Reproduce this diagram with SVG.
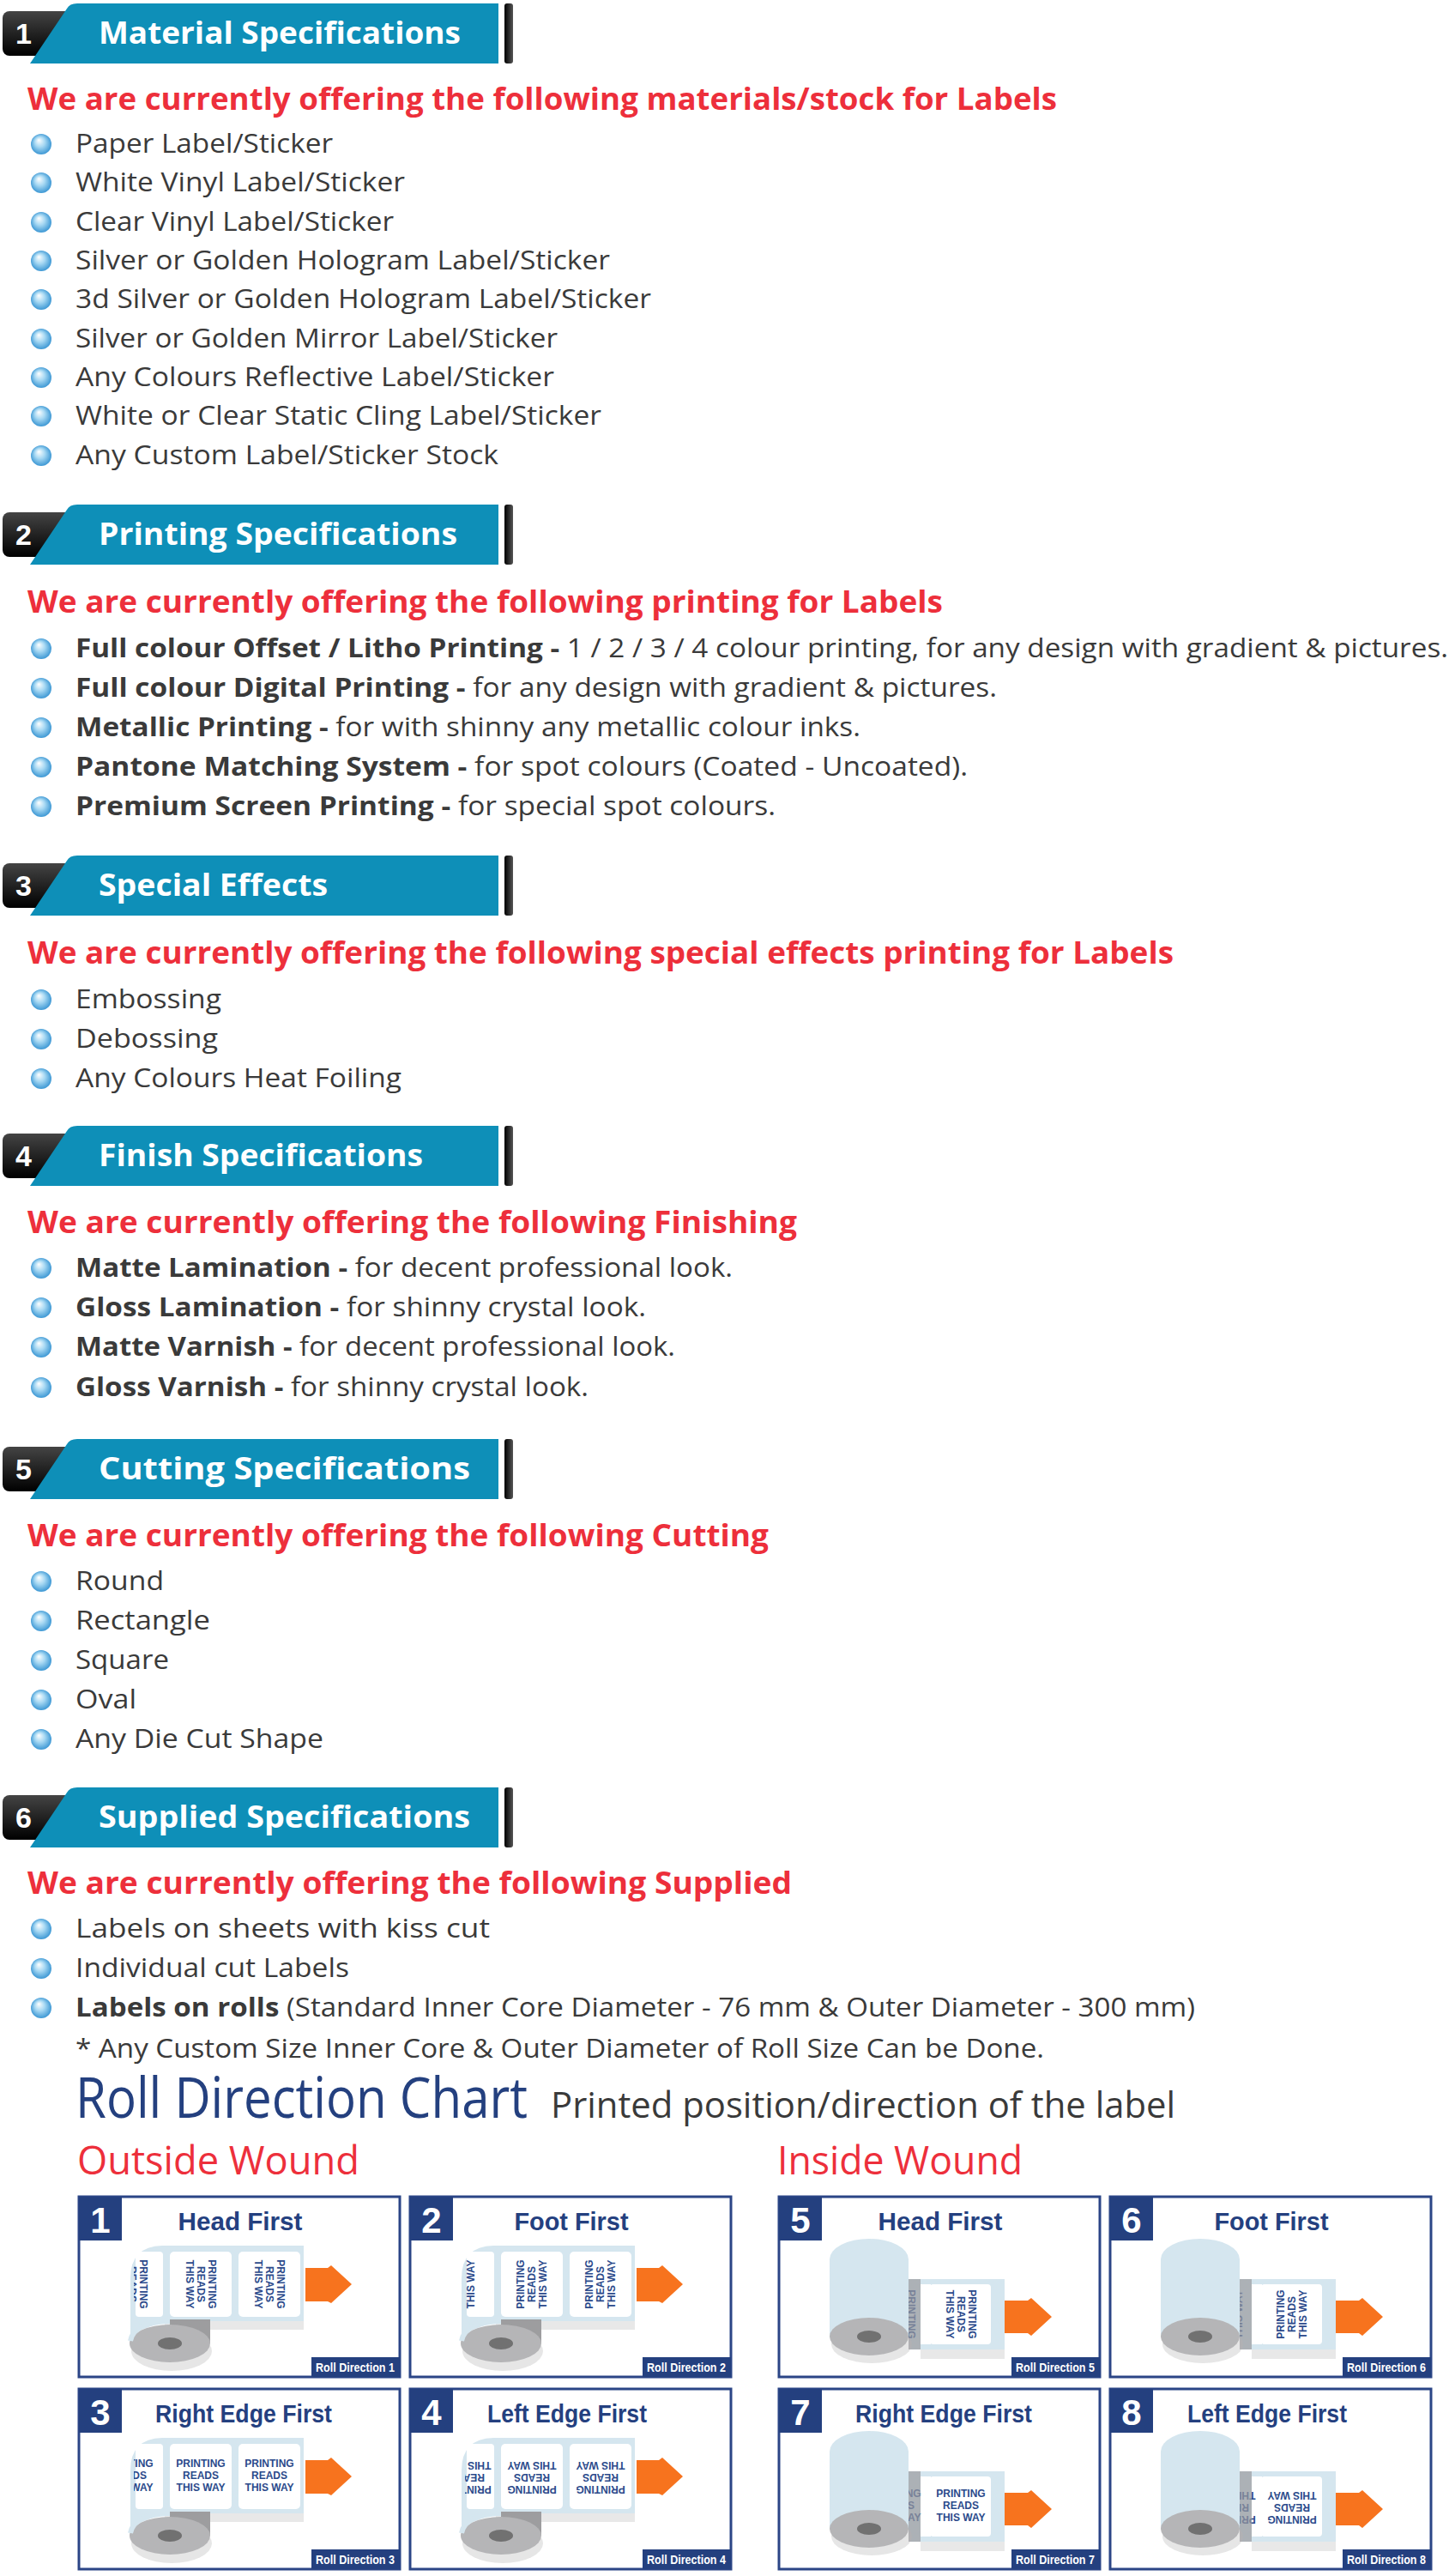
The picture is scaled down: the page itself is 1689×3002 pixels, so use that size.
<svg xmlns="http://www.w3.org/2000/svg" xmlns:xlink="http://www.w3.org/1999/xlink" width="1689" height="3002" viewBox="0 0 1689 3002">
<style>
.ht{font-family:"Open Sans","Liberation Sans",sans-serif;font-weight:bold;font-size:36px;fill:#fff}
.hn{font-family:"Liberation Sans",sans-serif;font-weight:bold;font-size:34px;fill:#fff}
.rd{font-family:"Open Sans","Liberation Sans",sans-serif;font-weight:bold;font-size:36px;fill:#ed2f3b}
.it{font-family:"Open Sans","Liberation Sans",sans-serif;font-size:31px;fill:#3a3a3a}
.b{font-weight:bold}
.bt{font-family:"Liberation Sans",sans-serif;font-weight:bold;font-size:30px;fill:#24407f}
.bn{font-family:"Liberation Sans",sans-serif;font-weight:bold;font-size:42px;fill:#fff}
.lb{font-family:"Liberation Sans",sans-serif;font-weight:bold;font-size:12px;fill:#2b4a8b;text-anchor:middle}
.tg{font-family:"Liberation Sans",sans-serif;font-weight:bold;font-size:15px;fill:#fff;text-anchor:middle}
.bx{fill:#fff;stroke:#2b4586;stroke-width:3}
</style>
<defs>
<radialGradient id="bg" cx="0.5" cy="0.5" r="0.55" fx="0.38" fy="0.3"><stop offset="0" stop-color="#fff"/><stop offset="0.45" stop-color="#a6d8f3"/><stop offset="1" stop-color="#2f8fd0"/></radialGradient>
<linearGradient id="dk" x1="0" y1="0" x2="1" y2="0"><stop offset="0" stop-color="#000"/><stop offset="1" stop-color="#555"/></linearGradient>
<linearGradient id="tab" x1="0" y1="0" x2="0" y2="1"><stop offset="0" stop-color="#444"/><stop offset="1" stop-color="#000"/></linearGradient>
<circle id="bul" r="12" fill="url(#bg)"/>
<g id="hdr">
<rect x="588" y="0" width="10" height="70" rx="3" fill="url(#dk)"/>
<rect x="3" y="9" width="90" height="52" rx="8" fill="url(#tab)"/>
<path d="M35,70 L78,6 Q81,0 90,0 L581,0 L581,70 Z" fill="#0e8fb8"/>
</g>
<g id="oroll">
<rect x="100" y="143" width="162" height="12" fill="#e8e8e8"/>
<path d="M60,160 L60,95 Q60,58 97,57 L262,57 L262,145 L100,145 Z" fill="#d5e6ef"/>
<rect x="66" y="64" width="32" height="76" rx="4" fill="#fff"/>
<rect x="106" y="64" width="72" height="76" rx="5" fill="#fff"/>
<rect x="186" y="64" width="72" height="76" rx="5" fill="#fff"/>
<ellipse cx="108" cy="180" rx="47" ry="23" fill="#e6e6e6"/>
<rect x="106" y="143" width="47" height="28" fill="#9d9d9f"/>
<ellipse cx="106" cy="171" rx="47" ry="22" fill="#b5b5b7"/>
<path d="M60,168 Q64,146 106,145" fill="none" stroke="#d5e6ef" stroke-width="6"/>
<ellipse cx="106" cy="171" rx="14" ry="7" fill="#717171"/>
<path d="M264,83 L290,83 L294,80 L318,102 L294,124 L290,122 L264,122 Z" fill="#f7731e"/>
</g>
<g id="iroll">
<rect x="165" y="176" width="98" height="13" fill="#e8e8e8"/>
<rect x="151" y="96" width="112" height="82" fill="#d5e6ef"/>
<rect x="165" y="102" width="12" height="70" fill="#fff"/>
<rect x="176" y="102" width="71" height="70" rx="4" fill="#fff"/>
<path d="M59,163 L59,73 A46,24 0 0 1 151,73 L151,163 Z" fill="#d5e6ef"/>
<ellipse cx="108" cy="172" rx="47" ry="22" fill="#e6e6e6"/>
<ellipse cx="105" cy="163" rx="46" ry="22" fill="#b5b5b7"/>
<ellipse cx="105" cy="163" rx="14" ry="7" fill="#717171"/>
<path d="M263,121 L290,121 L294,118 L318,140 L294,162 L290,159 L263,159 Z" fill="#f7731e"/>
</g>
<rect id="strip" x="151" y="96" width="14" height="82" fill="#9a9a9e" opacity="0.7"/>
<clipPath id="cpo"><rect x="64" y="60" width="34" height="84"/></clipPath>
<clipPath id="cpi"><rect x="151" y="98" width="26" height="76"/></clipPath>
</defs>

<!-- Section 1 -->
<g id="sec1">
<use href="#hdr" y="4"/>
<text class="hn" x="18" y="51">1</text>
<text class="ht" x="115" y="51" textLength="422" lengthAdjust="spacingAndGlyphs">Material Specifications</text>
<text class="rd" x="32" y="128" textLength="1200" lengthAdjust="spacingAndGlyphs">We are currently offering the following materials/stock for Labels</text>
<use href="#bul" x="48" y="168"/><text class="it" x="88" y="178" textLength="300" lengthAdjust="spacingAndGlyphs">Paper Label/Sticker</text>
<use href="#bul" x="48" y="213"/><text class="it" x="88" y="223" textLength="384" lengthAdjust="spacingAndGlyphs">White Vinyl Label/Sticker</text>
<use href="#bul" x="48" y="259"/><text class="it" x="88" y="269" textLength="371" lengthAdjust="spacingAndGlyphs">Clear Vinyl Label/Sticker</text>
<use href="#bul" x="48" y="304"/><text class="it" x="88" y="314" textLength="623" lengthAdjust="spacingAndGlyphs">Silver or Golden Hologram Label/Sticker</text>
<use href="#bul" x="48" y="349"/><text class="it" x="88" y="359" textLength="671" lengthAdjust="spacingAndGlyphs">3d Silver or Golden Hologram Label/Sticker</text>
<use href="#bul" x="48" y="395"/><text class="it" x="88" y="405" textLength="562" lengthAdjust="spacingAndGlyphs">Silver or Golden Mirror Label/Sticker</text>
<use href="#bul" x="48" y="440"/><text class="it" x="88" y="450" textLength="558" lengthAdjust="spacingAndGlyphs">Any Colours Reflective Label/Sticker</text>
<use href="#bul" x="48" y="485"/><text class="it" x="88" y="495" textLength="613" lengthAdjust="spacingAndGlyphs">White or Clear Static Cling Label/Sticker</text>
<use href="#bul" x="48" y="531"/><text class="it" x="88" y="541" textLength="493" lengthAdjust="spacingAndGlyphs">Any Custom Label/Sticker Stock</text>
</g>

<!-- Section 2 -->
<g id="sec2">
<use href="#hdr" y="588"/>
<text class="hn" x="18" y="635">2</text>
<text class="ht" x="115" y="635" textLength="418" lengthAdjust="spacingAndGlyphs">Printing Specifications</text>
<text class="rd" x="32" y="714" textLength="1067" lengthAdjust="spacingAndGlyphs">We are currently offering the following printing for Labels</text>
<use href="#bul" x="48" y="756"/><text class="it" x="88" y="766" textLength="1600" lengthAdjust="spacingAndGlyphs"><tspan class="b">Full colour Offset / Litho Printing - </tspan>1 / 2 / 3 / 4 colour printing, for any design with gradient &amp; pictures.</text>
<use href="#bul" x="48" y="802"/><text class="it" x="88" y="812" textLength="1074" lengthAdjust="spacingAndGlyphs"><tspan class="b">Full colour Digital Printing - </tspan>for any design with gradient &amp; pictures.</text>
<use href="#bul" x="48" y="848"/><text class="it" x="88" y="858" textLength="915" lengthAdjust="spacingAndGlyphs"><tspan class="b">Metallic Printing - </tspan>for with shinny any metallic colour inks.</text>
<use href="#bul" x="48" y="894"/><text class="it" x="88" y="904" textLength="1040" lengthAdjust="spacingAndGlyphs"><tspan class="b">Pantone Matching System - </tspan> for spot colours (Coated - Uncoated).</text>
<use href="#bul" x="48" y="940"/><text class="it" x="88" y="950" textLength="816" lengthAdjust="spacingAndGlyphs"><tspan class="b">Premium Screen Printing - </tspan> for special spot colours.</text>
</g>

<!-- Section 3 -->
<g id="sec3">
<use href="#hdr" y="997"/>
<text class="hn" x="18" y="1044">3</text>
<text class="ht" x="115" y="1044" textLength="267" lengthAdjust="spacingAndGlyphs">Special Effects</text>
<text class="rd" x="32" y="1123" textLength="1336" lengthAdjust="spacingAndGlyphs">We are currently offering the following special effects printing for Labels</text>
<use href="#bul" x="48" y="1165"/><text class="it" x="88" y="1175" textLength="170" lengthAdjust="spacingAndGlyphs">Embossing</text>
<use href="#bul" x="48" y="1211"/><text class="it" x="88" y="1221" textLength="166" lengthAdjust="spacingAndGlyphs">Debossing</text>
<use href="#bul" x="48" y="1257"/><text class="it" x="88" y="1267" textLength="380" lengthAdjust="spacingAndGlyphs">Any Colours Heat Foiling</text>
</g>

<!-- Section 4 -->
<g id="sec4">
<use href="#hdr" y="1312"/>
<text class="hn" x="18" y="1359">4</text>
<text class="ht" x="115" y="1359" textLength="378" lengthAdjust="spacingAndGlyphs">Finish Specifications</text>
<text class="rd" x="32" y="1437" textLength="897" lengthAdjust="spacingAndGlyphs">We are currently offering the following Finishing</text>
<use href="#bul" x="48" y="1478"/><text class="it" x="88" y="1488" textLength="766" lengthAdjust="spacingAndGlyphs"><tspan class="b">Matte Lamination - </tspan>for decent professional look.</text>
<use href="#bul" x="48" y="1524"/><text class="it" x="88" y="1534" textLength="665" lengthAdjust="spacingAndGlyphs"><tspan class="b">Gloss Lamination - </tspan>for shinny crystal look.</text>
<use href="#bul" x="48" y="1570"/><text class="it" x="88" y="1580" textLength="699" lengthAdjust="spacingAndGlyphs"><tspan class="b">Matte Varnish - </tspan>for decent professional look.</text>
<use href="#bul" x="48" y="1617"/><text class="it" x="88" y="1627" textLength="598" lengthAdjust="spacingAndGlyphs"><tspan class="b">Gloss Varnish - </tspan>for shinny crystal look.</text>
</g>

<!-- Section 5 -->
<g id="sec5">
<use href="#hdr" y="1677"/>
<text class="hn" x="18" y="1724">5</text>
<text class="ht" x="115" y="1724" textLength="433" lengthAdjust="spacingAndGlyphs">Cutting Specifications</text>
<text class="rd" x="32" y="1802" textLength="864" lengthAdjust="spacingAndGlyphs">We are currently offering the following Cutting</text>
<use href="#bul" x="48" y="1843"/><text class="it" x="88" y="1853" textLength="103" lengthAdjust="spacingAndGlyphs">Round</text>
<use href="#bul" x="48" y="1889"/><text class="it" x="88" y="1899" textLength="157" lengthAdjust="spacingAndGlyphs">Rectangle</text>
<use href="#bul" x="48" y="1935"/><text class="it" x="88" y="1945" textLength="109" lengthAdjust="spacingAndGlyphs">Square</text>
<use href="#bul" x="48" y="1981"/><text class="it" x="88" y="1991" textLength="71" lengthAdjust="spacingAndGlyphs">Oval</text>
<use href="#bul" x="48" y="2027"/><text class="it" x="88" y="2037" textLength="289" lengthAdjust="spacingAndGlyphs">Any Die Cut Shape</text>
</g>

<!-- Section 6 -->
<g id="sec6">
<use href="#hdr" y="2083"/>
<text class="hn" x="18" y="2130">6</text>
<text class="ht" x="115" y="2130" textLength="433" lengthAdjust="spacingAndGlyphs">Supplied Specifications</text>
<text class="rd" x="32" y="2207" textLength="891" lengthAdjust="spacingAndGlyphs">We are currently offering the following Supplied</text>
<use href="#bul" x="48" y="2248"/><text class="it" x="88" y="2258" textLength="483" lengthAdjust="spacingAndGlyphs">Labels on sheets with kiss cut</text>
<use href="#bul" x="48" y="2294"/><text class="it" x="88" y="2304" textLength="319" lengthAdjust="spacingAndGlyphs">Individual cut Labels</text>
<use href="#bul" x="48" y="2340"/><text class="it" x="88" y="2350" textLength="1305" lengthAdjust="spacingAndGlyphs"><tspan class="b">Labels on rolls</tspan> (Standard Inner Core Diameter - 76 mm &amp; Outer Diameter - 300 mm)</text>
<text class="it" x="88" y="2398" textLength="1129" lengthAdjust="spacingAndGlyphs">* Any Custom Size Inner Core &amp; Outer Diameter of Roll Size Can be Done.</text>
</g>

<!-- Chart -->
<g id="chart-title">
<text x="88" y="2468" font-family="Open Sans, Liberation Sans, sans-serif" font-size="66" fill="#24407f" textLength="527" lengthAdjust="spacingAndGlyphs">Roll Direction Chart</text>
<text x="642" y="2468" font-family="Open Sans, Liberation Sans, sans-serif" font-size="42" fill="#3a3a3a" textLength="728" lengthAdjust="spacingAndGlyphs">Printed position/direction of the label</text>
<text x="90" y="2534" font-family="Open Sans, Liberation Sans, sans-serif" font-size="46" fill="#ed2f3b" textLength="329" lengthAdjust="spacingAndGlyphs">Outside Wound</text>
<text x="906" y="2534" font-family="Open Sans, Liberation Sans, sans-serif" font-size="46" fill="#ed2f3b" textLength="286" lengthAdjust="spacingAndGlyphs">Inside Wound</text>
</g>

<g id="box1" transform="translate(92,2560)">
<rect class="bx" width="374" height="210"/><rect width="50" height="51" fill="#24407f"/><text class="bn" x="25" y="42" text-anchor="middle">1</text>
<text class="bt" x="188" y="39" text-anchor="middle" textLength="145" lengthAdjust="spacingAndGlyphs">Head First</text>
<use href="#oroll"/>
<g clip-path="url(#cpo)"><g transform="translate(62,102) rotate(90)"><text class="lb" y="-9">PRINTING</text><text class="lb" y="4">READS</text><text class="lb" y="17">THIS WAY</text></g></g>
<g transform="translate(142,102) rotate(90)"><text class="lb" y="-9">PRINTING</text><text class="lb" y="4">READS</text><text class="lb" y="17">THIS WAY</text></g>
<g transform="translate(222,102) rotate(90)"><text class="lb" y="-9">PRINTING</text><text class="lb" y="4">READS</text><text class="lb" y="17">THIS WAY</text></g>
<rect x="271" y="187" width="103" height="23" fill="#24407f"/><text class="tg" x="322" y="204" textLength="92" lengthAdjust="spacingAndGlyphs">Roll Direction 1</text>
</g>

<g id="box2" transform="translate(478,2560)">
<rect class="bx" width="374" height="210"/><rect width="50" height="51" fill="#24407f"/><text class="bn" x="25" y="42" text-anchor="middle">2</text>
<text class="bt" x="188" y="39" text-anchor="middle" textLength="133" lengthAdjust="spacingAndGlyphs">Foot First</text>
<use href="#oroll"/>
<g clip-path="url(#cpo)"><g transform="translate(58,102) rotate(-90)"><text class="lb" y="-9">PRINTING</text><text class="lb" y="4">READS</text><text class="lb" y="17">THIS WAY</text></g></g>
<g transform="translate(142,102) rotate(-90)"><text class="lb" y="-9">PRINTING</text><text class="lb" y="4">READS</text><text class="lb" y="17">THIS WAY</text></g>
<g transform="translate(222,102) rotate(-90)"><text class="lb" y="-9">PRINTING</text><text class="lb" y="4">READS</text><text class="lb" y="17">THIS WAY</text></g>
<rect x="271" y="187" width="103" height="23" fill="#24407f"/><text class="tg" x="322" y="204" textLength="92" lengthAdjust="spacingAndGlyphs">Roll Direction 2</text>
</g>

<g id="box3" transform="translate(92,2784)">
<rect class="bx" width="374" height="210"/><rect width="50" height="51" fill="#24407f"/><text class="bn" x="25" y="42" text-anchor="middle">3</text>
<text class="bt" x="192" y="39" text-anchor="middle" textLength="206" lengthAdjust="spacingAndGlyphs">Right Edge First</text>
<use href="#oroll"/>
<g clip-path="url(#cpo)"><g transform="translate(58,102)"><text class="lb" y="-11">PRINTING</text><text class="lb" y="3">READS</text><text class="lb" y="17">THIS WAY</text></g></g>
<g transform="translate(142,102)"><text class="lb" y="-11">PRINTING</text><text class="lb" y="3">READS</text><text class="lb" y="17">THIS WAY</text></g>
<g transform="translate(222,102)"><text class="lb" y="-11">PRINTING</text><text class="lb" y="3">READS</text><text class="lb" y="17">THIS WAY</text></g>
<rect x="271" y="187" width="103" height="23" fill="#24407f"/><text class="tg" x="322" y="204" textLength="92" lengthAdjust="spacingAndGlyphs">Roll Direction 3</text>
</g>

<g id="box4" transform="translate(478,2784)">
<rect class="bx" width="374" height="210"/><rect width="50" height="51" fill="#24407f"/><text class="bn" x="25" y="42" text-anchor="middle">4</text>
<text class="bt" x="183" y="39" text-anchor="middle" textLength="186" lengthAdjust="spacingAndGlyphs">Left Edge First</text>
<use href="#oroll"/>
<g clip-path="url(#cpo)"><g transform="translate(66,102) rotate(180)"><text class="lb" y="-11">PRINTING</text><text class="lb" y="3">READS</text><text class="lb" y="17">THIS WAY</text></g></g>
<g transform="translate(142,102) rotate(180)"><text class="lb" y="-11">PRINTING</text><text class="lb" y="3">READS</text><text class="lb" y="17">THIS WAY</text></g>
<g transform="translate(222,102) rotate(180)"><text class="lb" y="-11">PRINTING</text><text class="lb" y="3">READS</text><text class="lb" y="17">THIS WAY</text></g>
<rect x="271" y="187" width="103" height="23" fill="#24407f"/><text class="tg" x="322" y="204" textLength="92" lengthAdjust="spacingAndGlyphs">Roll Direction 4</text>
</g>

<g id="box5" transform="translate(908,2560)">
<rect class="bx" width="374" height="210"/><rect width="50" height="51" fill="#24407f"/><text class="bn" x="25" y="42" text-anchor="middle">5</text>
<text class="bt" x="188" y="39" text-anchor="middle" textLength="145" lengthAdjust="spacingAndGlyphs">Head First</text>
<use href="#iroll"/>
<g clip-path="url(#cpi)"><g transform="translate(141,137) rotate(90)"><text class="lb" y="-9">PRINTING</text><text class="lb" y="4">READS</text><text class="lb" y="17">THIS WAY</text></g></g>
<use href="#strip"/>
<g transform="translate(212,137) rotate(90)"><text class="lb" y="-9">PRINTING</text><text class="lb" y="4">READS</text><text class="lb" y="17">THIS WAY</text></g>
<rect x="271" y="187" width="103" height="23" fill="#24407f"/><text class="tg" x="322" y="204" textLength="92" lengthAdjust="spacingAndGlyphs">Roll Direction 5</text>
</g>

<g id="box6" transform="translate(1294,2560)">
<rect class="bx" width="374" height="210"/><rect width="50" height="51" fill="#24407f"/><text class="bn" x="25" y="42" text-anchor="middle">6</text>
<text class="bt" x="188" y="39" text-anchor="middle" textLength="133" lengthAdjust="spacingAndGlyphs">Foot First</text>
<use href="#iroll"/>
<g clip-path="url(#cpi)"><g transform="translate(137,137) rotate(-90)"><text class="lb" y="-9">PRINTING</text><text class="lb" y="4">READS</text><text class="lb" y="17">THIS WAY</text></g></g>
<use href="#strip"/>
<g transform="translate(212,137) rotate(-90)"><text class="lb" y="-9">PRINTING</text><text class="lb" y="4">READS</text><text class="lb" y="17">THIS WAY</text></g>
<rect x="271" y="187" width="103" height="23" fill="#24407f"/><text class="tg" x="322" y="204" textLength="92" lengthAdjust="spacingAndGlyphs">Roll Direction 6</text>
</g>

<g id="box7" transform="translate(908,2784)">
<rect class="bx" width="374" height="210"/><rect width="50" height="51" fill="#24407f"/><text class="bn" x="25" y="42" text-anchor="middle">7</text>
<text class="bt" x="192" y="39" text-anchor="middle" textLength="206" lengthAdjust="spacingAndGlyphs">Right Edge First</text>
<use href="#iroll"/>
<g clip-path="url(#cpi)"><g transform="translate(137,137)"><text class="lb" y="-11">PRINTING</text><text class="lb" y="3">READS</text><text class="lb" y="17">THIS WAY</text></g></g>
<use href="#strip"/>
<g transform="translate(212,137)"><text class="lb" y="-11">PRINTING</text><text class="lb" y="3">READS</text><text class="lb" y="17">THIS WAY</text></g>
<rect x="271" y="187" width="103" height="23" fill="#24407f"/><text class="tg" x="322" y="204" textLength="92" lengthAdjust="spacingAndGlyphs">Roll Direction 7</text>
</g>

<g id="box8" transform="translate(1294,2784)">
<rect class="bx" width="374" height="210"/><rect width="50" height="51" fill="#24407f"/><text class="bn" x="25" y="42" text-anchor="middle">8</text>
<text class="bt" x="183" y="39" text-anchor="middle" textLength="186" lengthAdjust="spacingAndGlyphs">Left Edge First</text>
<use href="#iroll"/>
<g clip-path="url(#cpi)"><g transform="translate(141,137) rotate(180)"><text class="lb" y="-11">PRINTING</text><text class="lb" y="3">READS</text><text class="lb" y="17">THIS WAY</text></g></g>
<use href="#strip"/>
<g transform="translate(212,137) rotate(180)"><text class="lb" y="-11">PRINTING</text><text class="lb" y="3">READS</text><text class="lb" y="17">THIS WAY</text></g>
<rect x="271" y="187" width="103" height="23" fill="#24407f"/><text class="tg" x="322" y="204" textLength="92" lengthAdjust="spacingAndGlyphs">Roll Direction 8</text>
</g>

<g id="connectors"/>
</svg>
